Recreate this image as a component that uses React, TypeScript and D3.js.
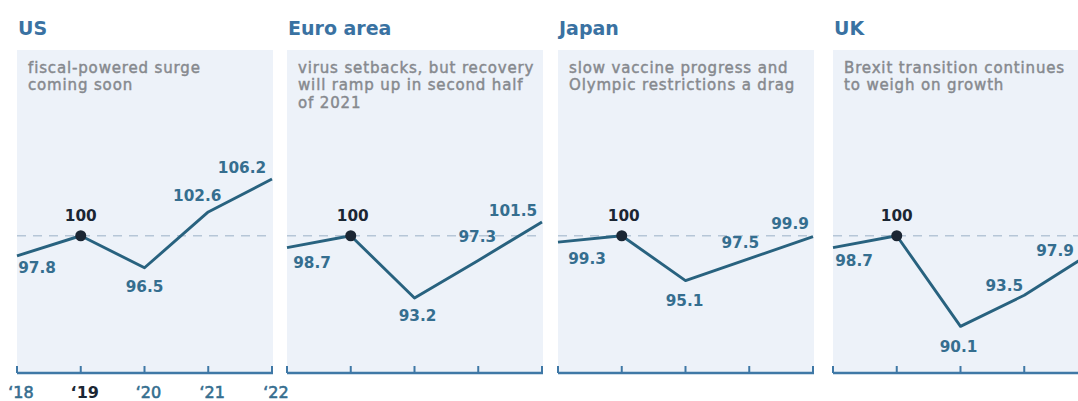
import React from "react";
import * as d3 from "d3";

// Real GDP index, 2019 = 100
const years = [2018, 2019, 2020, 2021, 2022];
const yearLabels = ["‘18", "‘19", "‘20", "‘21", "‘22"];

const regions = ["US", "Euro area", "Japan", "UK"];

const usValues = [97.8, 100, 96.5, 102.6, 106.2];
const euroValues = [98.7, 100, 93.2, 97.3, 101.5];
const japanValues = [99.3, 100, 95.1, 97.5, 99.9];
const ukValues = [98.7, 100, 90.1, 93.5, 97.9];

const usNote = ["fiscal-powered surge", "coming soon"];
const euroNote = ["virus setbacks, but recovery", "will ramp up in second half", "of 2021"];
const japanNote = ["slow vaccine progress and", "Olympic restrictions a drag"];
const ukNote = ["Brexit transition continues", "to weigh on growth"];

const baseYear = 2019;
const baseValue = 100;

// Layout
const W = 1078;
const H = 401;
const panelLeft = [17, 287, 558, 833];
const panelW = 255;
const panelTop = 50;
const axisY = 373;
const yDomain: [number, number] = [85, 120.3];

// Per-point label offsets (label centre x, baseline y) from the point
const labelOffsets: [number, number][][] = [
  [[20, 17], [0, -15], [0, 24], [-11, -11], [-30, -6]],
  [[25, 20], [2, -15], [3, 23], [-1, -18], [-29, -6]],
  [[29, 22], [2, -15], [-1, 25], [-9, -11], [-23, -8]],
  [[21, 18], [0, -15], [-2, 26], [-20, -4], [-33, 1]],
];

const seriesList = [usValues, euroValues, japanValues, ukValues];
const notes = [usNote, euroNote, japanNote, ukNote];

const FONT = "'DejaVu Sans', Verdana, sans-serif";
const LINE = "#28627f";
const LABEL = "#356e8f";
const DARK = "#1b2633";
const TITLE = "#3a72a2";
const AXIS = "#3f78a6";
const PANEL = "#edf2f9";
const NOTE = "#86898e";

function Panel({ index }: { index: number }) {
  const x0 = panelLeft[index];
  const values = seriesList[index];
  const x = d3.scaleLinear().domain([years[0], years[years.length - 1]]).range([x0, x0 + panelW]);
  const y = d3.scaleLinear().domain(yDomain).range([axisY, panelTop]);
  const line = d3
    .line<number>()
    .x((_, i) => x(years[i]))
    .y((d) => y(d));

  return (
    <g>
      <rect x={x0} y={panelTop} width={panelW + 1} height={axisY - panelTop} fill={PANEL} />
      <text x={x0 + 1} y={35} fontFamily={FONT} fontWeight="bold" fontSize={19} fill={TITLE}>
        {regions[index]}
      </text>
      {notes[index].map((t, i) => (
        <text
          key={i}
          x={x0 + 11}
          y={72.5 + i * 17.5}
          fontFamily={FONT}
          fontSize={15}
          letterSpacing={0.85}
          fill={NOTE}
          stroke={NOTE}
          strokeWidth={0.45}
        >
          {t}
        </text>
      ))}
      <line
        x1={x0}
        x2={x0 + panelW}
        y1={y(baseValue)}
        y2={y(baseValue)}
        stroke="#b6c6d7"
        strokeWidth={1.6}
        strokeDasharray="9 7"
      />
      {/* axis */}
      <line x1={x0} x2={x0 + panelW + 1} y1={axisY} y2={axisY} stroke={AXIS} strokeWidth={2.5} />
      {years.map((yr) => (
        <line key={yr} x1={x(yr)} x2={x(yr)} y1={axisY} y2={axisY - 7} stroke={AXIS} strokeWidth={2} />
      ))}
      <path d={line(values) || ""} fill="none" stroke={LINE} strokeWidth={2.9} strokeLinejoin="round" />
      <circle cx={x(baseYear)} cy={y(baseValue)} r={5.5} fill={DARK} />
      {values.map((v, i) => {
        const [dx, dy] = labelOffsets[index][i];
        const isBase = years[i] === baseYear;
        return (
          <text
            key={i}
            x={x(years[i]) + dx}
            y={y(v) + dy}
            textAnchor="middle"
            fontFamily={FONT}
            fontWeight="bold"
            fontSize={15.3}
            fill={isBase ? DARK : LABEL}
          >
            {isBase ? String(v) : v.toFixed(1)}
          </text>
        );
      })}
      {index === 0 &&
        years.map((yr, i) => (
          <text
            key={yr}
            x={x(yr) + 4}
            y={398}
            textAnchor="middle"
            fontFamily={FONT}
            fontWeight={yr === baseYear ? "bold" : "normal"}
            fontSize={16}
            fill={yr === baseYear ? DARK : LABEL}
            stroke={yr === baseYear ? "none" : LABEL}
            strokeWidth={0.6}
          >
            {yearLabels[i]}
          </text>
        ))}
    </g>
  );
}

export default function App() {
  return (
    <svg
      width={W}
      height={H}
      viewBox={`0 0 ${W} ${H}`}
      style={{ position: "absolute", left: 0, top: 0, display: "block", background: "#fff" }}
    >
      {regions.map((_, i) => (
        <Panel key={i} index={i} />
      ))}
    </svg>
  );
}
